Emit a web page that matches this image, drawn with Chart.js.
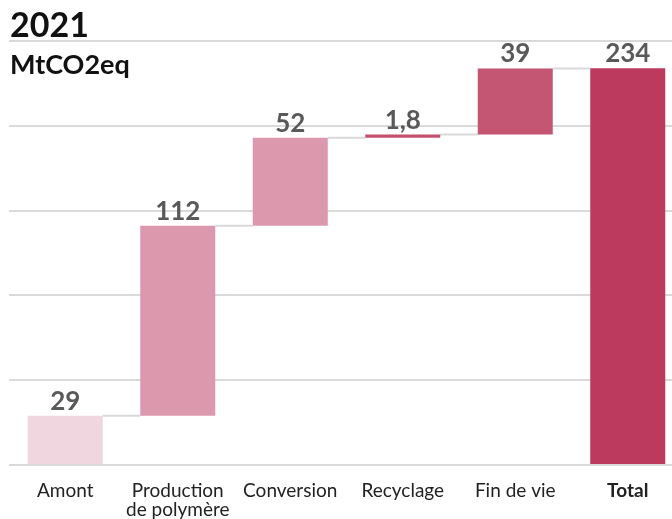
<!DOCTYPE html>
<html>
<head>
<meta charset="utf-8">
<script src="https://cdn.jsdelivr.net/npm/chart.js@4/dist/chart.umd.min.js"></script>
<style>
    html, body { margin: 0; padding: 0; background: #fff; overflow: hidden; }
    #wrap { position: relative; width: 672px; height: 519px; overflow: hidden; }
    #chart { position: absolute; left: 0; top: 0; }
    .title { position: absolute; left: 10px; font-family: Lato, "Noto Sans", sans-serif; font-weight: 700; color: #111; line-height: 1; }
    #year { top: 7px; font-size: 34px; }
    #unit { top: 50px; font-size: 27px; }
</style>
</head>
<body>
<div id="wrap">
    <canvas id="chart" width="684" height="519"></canvas>
    <div class="title" id="year">2021</div>
    <div class="title" id="unit">MtCO2eq</div>
</div>
<script>
const categories = [['Amont'], ['Production', 'de polymère'], ['Conversion'], ['Recyclage'], ['Fin de vie'], ['Total']];
const steps = [29, 112, 52, 1.8, 39];
const total = 234;
const valueLabels = ['29', '112', '52', '1,8', '39', '234'];
const barColors = ['#f0d6de', '#dc98ad', '#dc98ad', '#c4506f', '#c45573', '#bd3a5f'];
const yTicks = [0, 50, 100, 150, 200, 250];

// floating bars: [start, end] built from the step values
const ranges = [];
let running = 0;
steps.forEach(v => {
    ranges.push([running, running + v]);
    running += v;
});
ranges.push([0, total]);

const connectors = {
    id: 'connectors',
    beforeDatasetsDraw(chart) {
        const ctx = chart.ctx;
        const meta = chart.getDatasetMeta(0);
        const y = chart.scales.y;
        ctx.save();
        ctx.strokeStyle = '#d9d9d9';
        ctx.lineWidth = 2;
        for (let i = 0; i < meta.data.length - 1; i++) {
            const a = meta.data[i], b = meta.data[i + 1];
            const level = y.getPixelForValue(ranges[i][1]);
            ctx.beginPath();
            ctx.moveTo(a.x + a.width / 2, level);
            ctx.lineTo(b.x - b.width / 2, level);
            ctx.stroke();
        }
        ctx.restore();
    },
    afterDatasetsDraw(chart) {
        const ctx = chart.ctx;
        const meta = chart.getDatasetMeta(0);
        ctx.save();
        ctx.fillStyle = '#595959';
        ctx.font = 'bold 26px Lato, "Noto Sans", sans-serif';
        ctx.textAlign = 'center';
        ctx.textBaseline = 'alphabetic';
        meta.data.forEach((bar, i) => {
            ctx.fillText(valueLabels[i], bar.x, bar.y - 6);
        });
        ctx.restore();
    }
};

new Chart(document.getElementById('chart'), {
    type: 'bar',
    data: {
        labels: categories,
        datasets: [{
            data: ranges,
            backgroundColor: barColors,
            borderWidth: 0,
            barPercentage: 0.667,
            categoryPercentage: 1
        }]
    },
    options: {
        responsive: false,
        animation: false,
        layout: { padding: { left: 9, right: 0, top: 41, bottom: 0 } },
        plugins: { legend: { display: false }, tooltip: { enabled: false } },
        scales: {
            x: {
                afterFit: axis => { axis.height = 54; },
                grid: { display: false, drawTicks: false },
                border: { display: false },
                ticks: {
                    color: '#222',
                    padding: 16,
                    maxRotation: 0,
                    autoSkip: false,
                    font: ctx => ({
                        family: 'Lato, "Noto Sans", sans-serif',
                        size: 19,
                        weight: ctx.index === categories.length - 1 ? 'bold' : 'normal',
                        lineHeight: 1.0
                    })
                }
            },
            y: {
                min: 0,
                max: 250,
                afterBuildTicks: axis => { axis.ticks = yTicks.map(v => ({ value: v })); },
                ticks: { display: false },
                grid: { color: '#dadada', lineWidth: 2, drawTicks: false },
                border: { display: false }
            }
        }
    },
    plugins: [connectors]
});
</script>
</body>
</html>
